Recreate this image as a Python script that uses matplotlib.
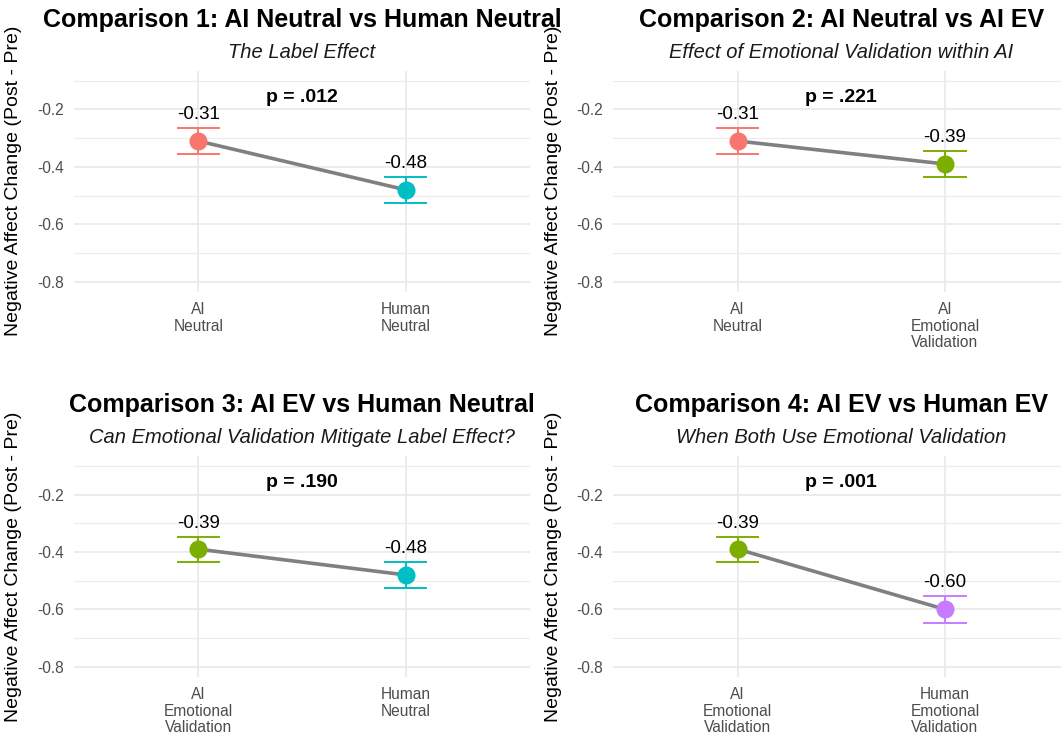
import matplotlib
matplotlib.use("Agg")
import matplotlib.pyplot as plt
from matplotlib.ticker import FixedLocator

plt.rcParams["font.family"] = ["Liberation Sans", "DejaVu Sans"]
plt.rcParams["axes.unicode_minus"] = False

# Condition summaries (mean change and standard error)
conditions = ["AI Neutral", "AI Emotional Validation", "Human Neutral", "Human Emotional Validation"]
tick_names = ["AI\nNeutral", "AI\nEmotional\nValidation", "Human\nNeutral", "Human\nEmotional\nValidation"]
means = [-0.31, -0.39, -0.48, -0.60]
ses = [0.045, 0.044, 0.046, 0.048]
colors = ["#F8766D", "#7CAE00", "#00BFC4", "#C77CFF"]

# Pairwise comparisons
pairs = [(0, 2), (0, 1), (1, 2), (1, 3)]
titles = [
    "Comparison 1: AI Neutral vs Human Neutral",
    "Comparison 2: AI Neutral vs AI EV",
    "Comparison 3: AI EV vs Human Neutral",
    "Comparison 4: AI EV vs Human EV",
]
subtitles = [
    "The Label Effect",
    "Effect of Emotional Validation within AI",
    "Can Emotional Validation Mitigate Label Effect?",
    "When Both Use Emotional Validation",
]
p_labels = ["p = .012", "p = .221", "p = .190", "p = .001"]

y_major = [-0.8, -0.6, -0.4, -0.2]
y_minor = [-0.7, -0.5, -0.3, -0.1]

W, H = 1061, 738
fig = plt.figure(figsize=(W / 100, H / 100), dpi=100)

# panel boxes in pixels: left, top, width, height
boxes = [(74, 70.7, 456, 221), (613.3, 70.7, 456, 221),
         (74, 456, 456, 220.7), (613.3, 456, 456, 220.7)]

grid_col = "#EBEBEB"
for k, (i, j) in enumerate(pairs):
    l, t, w, h = boxes[k]
    ax = fig.add_axes([l / W, (H - t - h) / H, w / W, h / H])
    idx = [i, j]
    xs = [1, 2]
    ys = [means[n] for n in idx]

    ax.set_xlim(0.4, 2.6)
    ax.set_ylim(-0.835, -0.065)
    for s in ax.spines.values():
        s.set_visible(False)

    ax.yaxis.set_major_locator(FixedLocator(y_major))
    ax.yaxis.set_minor_locator(FixedLocator(y_minor))
    ax.set_yticklabels([f"{v:.1f}" for v in y_major])
    ax.set_xticks(xs)
    ax.set_xticklabels([tick_names[n] for n in idx], linespacing=1.12)
    ax.tick_params(axis="both", which="both", length=0)
    ax.tick_params(axis="y", labelsize=11.2, labelcolor="#4D4D4D", pad=7.5)
    ax.tick_params(axis="x", labelsize=11.2, labelcolor="#4D4D4D", pad=7.5)

    ax.grid(True, which="major", axis="both", color=grid_col, lw=1.3, zorder=0)
    ax.grid(True, which="minor", axis="y", color=grid_col, lw=0.8, zorder=0)
    ax.set_axisbelow(True)

    ax.plot(xs, ys, color="#808080", lw=2.6, zorder=2, solid_capstyle="butt")
    for x, n in zip(xs, idx):
        ax.errorbar(x, means[n], yerr=ses[n], color=colors[n], lw=1.4,
                    capsize=0, zorder=3)
        ax.plot([x - 0.1, x + 0.1], [means[n] + ses[n]] * 2, color=colors[n], lw=1.4, zorder=3)
        ax.plot([x - 0.1, x + 0.1], [means[n] - ses[n]] * 2, color=colors[n], lw=1.4, zorder=3)
        ax.plot(x, means[n], "o", ms=13, color=colors[n], mec="none", zorder=4)
        ax.annotate(f"{means[n]:.2f}", (x, means[n] + ses[n]), xytext=(0, 6.5),
                    textcoords="offset points", ha="center", va="baseline",
                    fontsize=13.5, color="black")

    ax.annotate(p_labels[k], (1.5, -0.158), ha="center", va="center",
                fontsize=14, fontweight="bold", color="black")

    ax.set_ylabel("Negative Affect Change (Post - Pre)", fontsize=14, color="black")
    ax.yaxis.set_label_coords(-51.5 / w, 0.5)

    ax.annotate(titles[k], (0.5, 1), xycoords="axes fraction", xytext=(0, 31.5),
                textcoords="offset points", ha="center", va="baseline",
                fontsize=18, fontweight="bold", color="black", annotation_clip=False)
    ax.annotate(subtitles[k], (0.5, 1), xycoords="axes fraction", xytext=(0, 9.5),
                textcoords="offset points", ha="center", va="baseline",
                fontsize=14.5, fontstyle="italic", color="#1A1A1A", annotation_clip=False)

fig.savefig("out.png", dpi=100)
